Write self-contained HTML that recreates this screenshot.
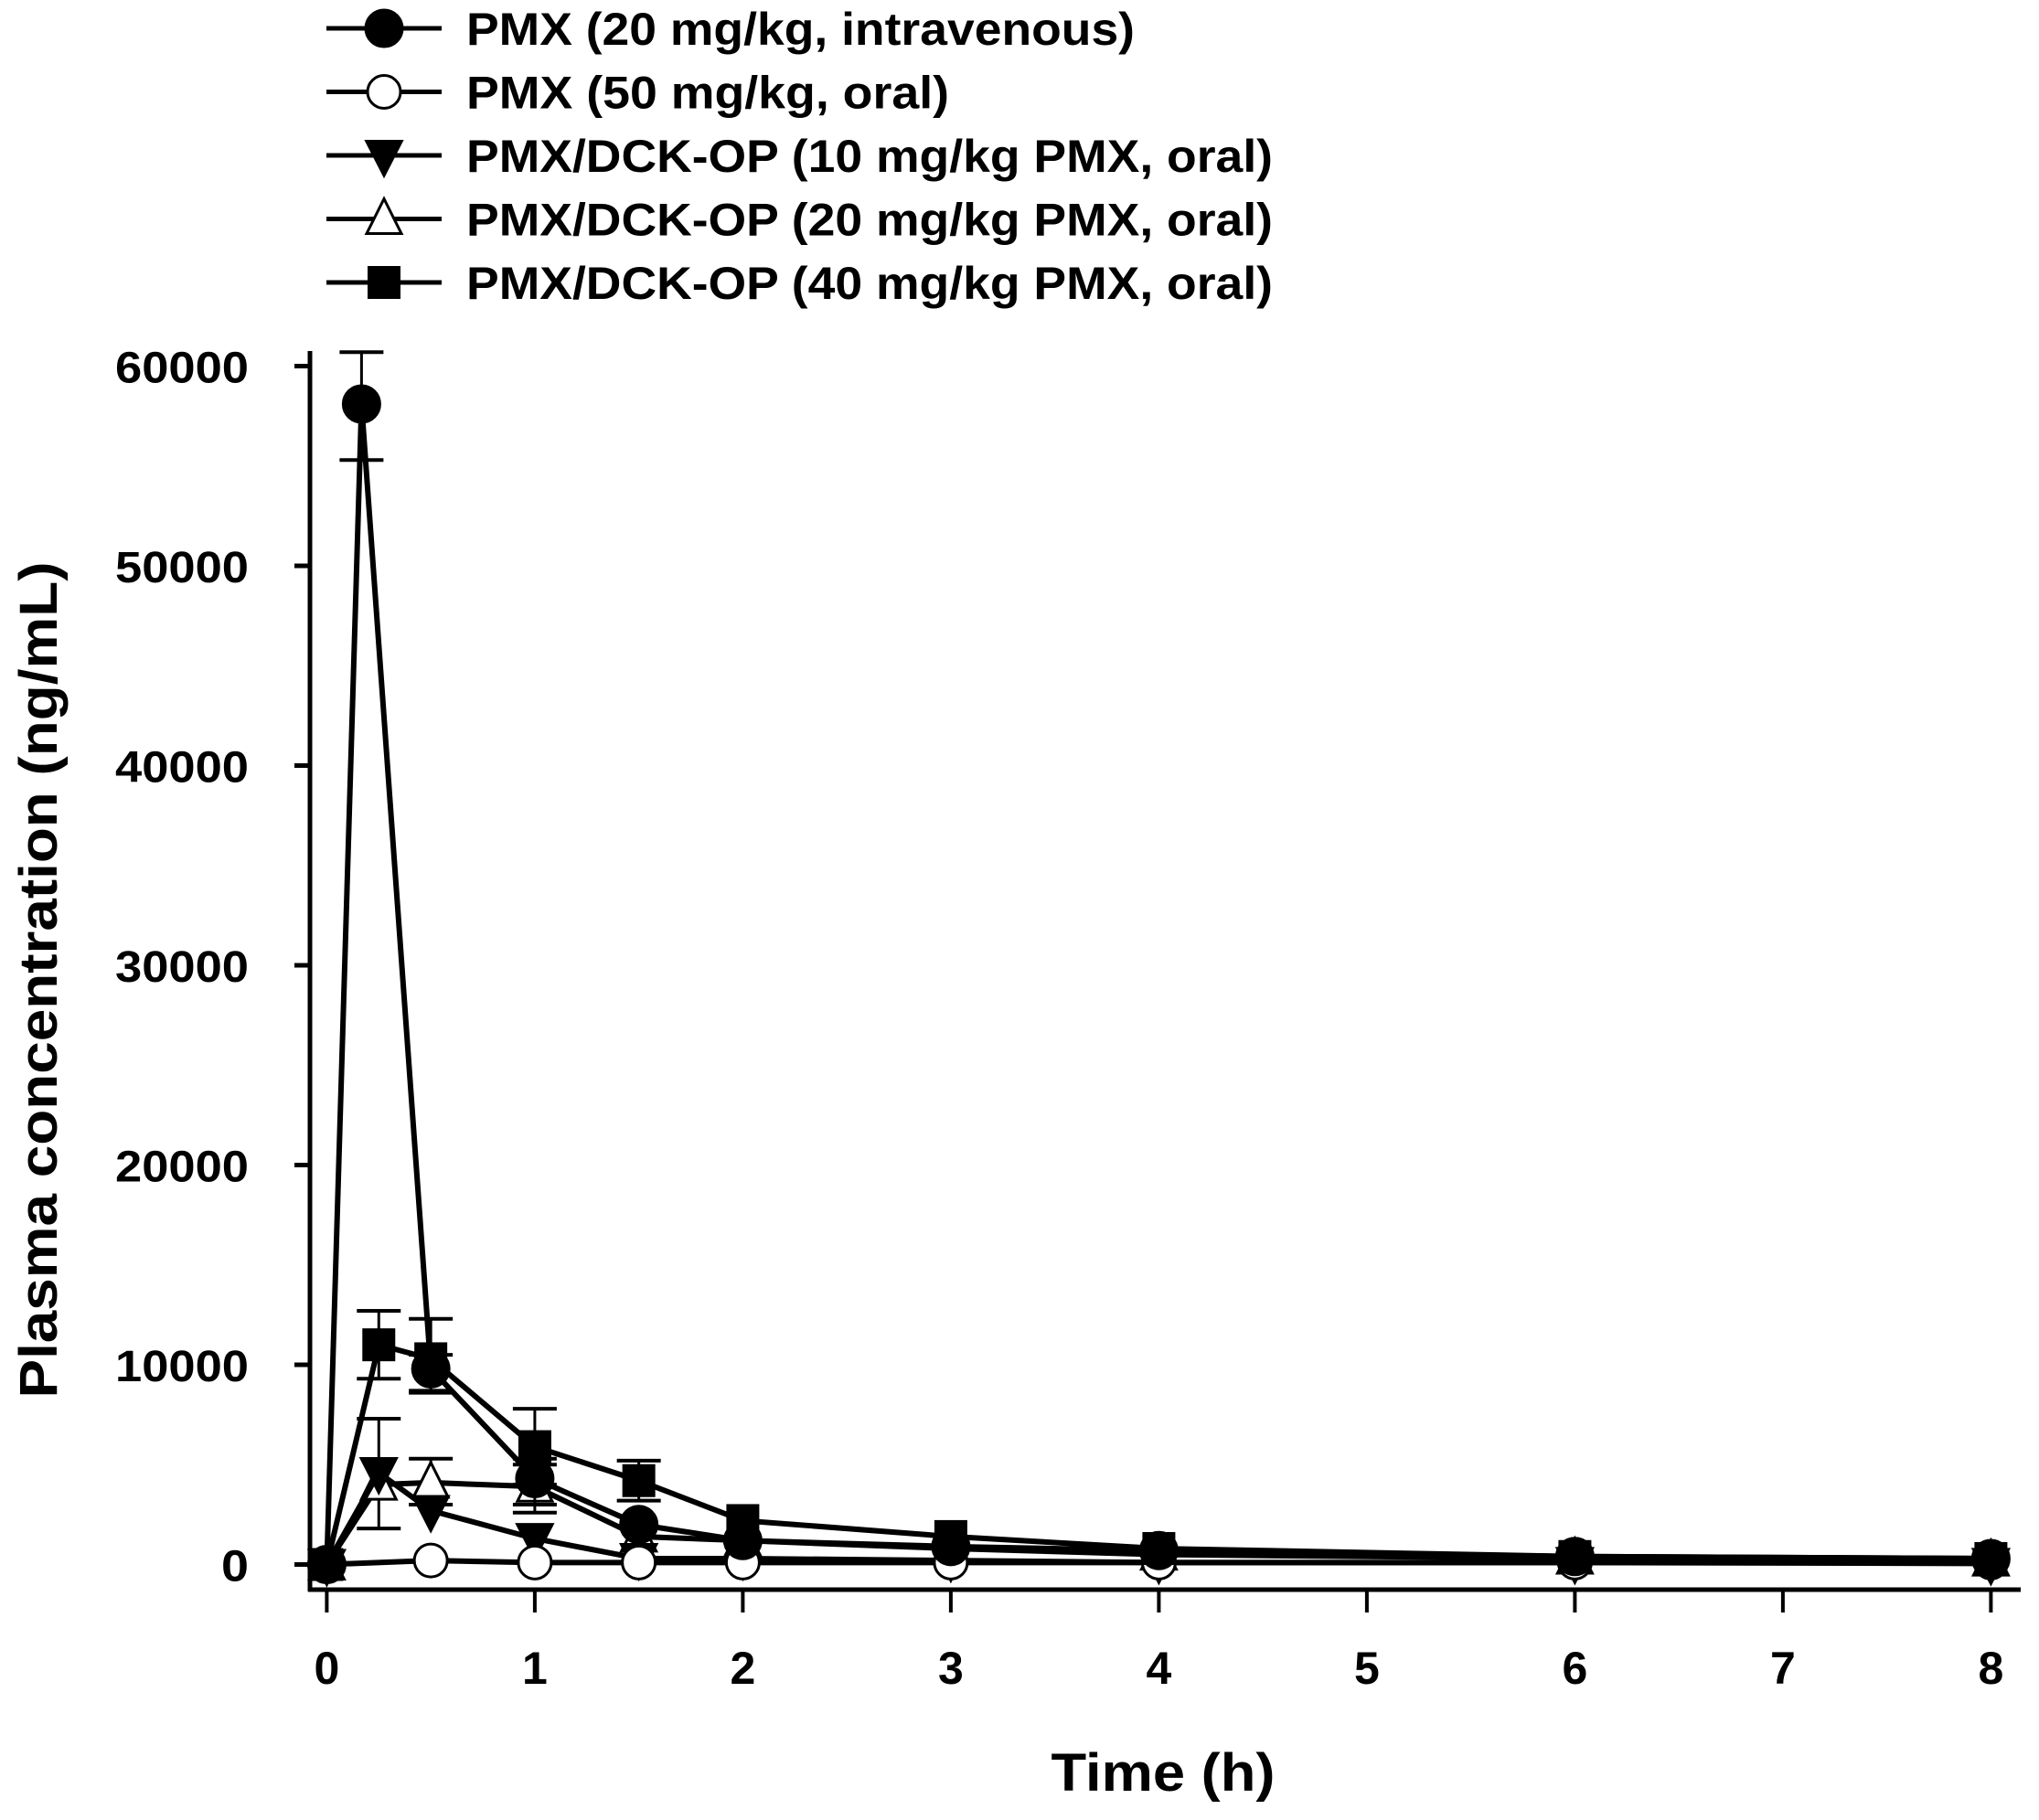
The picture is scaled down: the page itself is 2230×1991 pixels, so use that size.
<!DOCTYPE html>
<html><head><meta charset="utf-8"><style>
html,body{margin:0;padding:0;background:#fff;}
svg{display:block;}
text{font-family:"Liberation Sans",Arial,sans-serif;font-weight:bold;fill:#000;}
</style></head><body>
<svg id="s" width="2230" height="1991" viewBox="0 0 2230 1991" xmlns="http://www.w3.org/2000/svg">
<g id="axes" stroke="#000" stroke-width="5" fill="none">
<line x1="339" y1="384" x2="339" y2="1741"/>
<line x1="337" y1="1739" x2="2210" y2="1739"/>
</g>
<g id="g"></g>
<text x="1272" y="1959" font-size="58" text-anchor="middle" textLength="245" lengthAdjust="spacingAndGlyphs">Time (h)</text>
<text transform="translate(62,1072) rotate(-90)" font-size="58" text-anchor="middle" textLength="915" lengthAdjust="spacingAndGlyphs">Plasma concentration (ng/mL)</text>
</svg>
<script>
var NS="http://www.w3.org/2000/svg",g=document.getElementById('g');
function X(t){return 357.4+t*227.5;}function Y(v){return 1711.5-v*0.02185;}
function el(n,a,p){var e=document.createElementNS(NS,n);for(var k in a)e.setAttribute(k,a[k]);(p||g).appendChild(e);return e;}
for(var v=0;v<=60000;v+=10000){var y=Y(v);el('line',{x1:322,y1:y,x2:339,y2:y,stroke:'#000','stroke-width':5});
var t=el('text',{x:272,y:y+18,'font-size':48,'text-anchor':'end',textLength:(v==0?30:146),lengthAdjust:'spacingAndGlyphs'});t.textContent=v;}
[0,1,2,3,4,5,6,7,8].forEach(function(h){var x=X(h);el('line',{x1:x,y1:1739,x2:x,y2:1764,stroke:'#000','stroke-width':4});
var t=el('text',{x:x,y:1842,'font-size':50,'text-anchor':'middle'});t.textContent=h;});
function marker(type,x,y,r,p){r=r||20;
if(type=='fc')el('circle',{cx:x,cy:y,r:r,fill:'#000',stroke:'#000','stroke-width':3},p);
if(type=='oc')el('circle',{cx:x,cy:y,r:r-2,fill:'#fff',stroke:'#000','stroke-width':3},p);
if(type=='dt')el('polygon',{points:(x-20)+','+(y-16)+' '+(x+20)+','+(y-16)+' '+x+','+(y+23),fill:'#000',stroke:'#000','stroke-width':2},p);
if(type=='ut')el('polygon',{points:(x-19)+','+(y+16)+' '+(x+19)+','+(y+16)+' '+x+','+(y-22),fill:'#fff',stroke:'#000','stroke-width':3},p);
if(type=='sq')el('rect',{x:x-18,y:y-18,width:36,height:36,fill:'#000'},p);}
var S=[
{m:'ut',d:[[0,0],[0.25,4000,1800,7300],[0.5,4100,3000,5300],[1,3900,2600,5300],[1.5,1400],[2,1200],[3,800],[4,500],[6,300],[8,200]]},
{m:'dt',d:[[0,0],[0.25,4600],[0.5,2700],[1,1300],[1.5,300],[2,300],[3,200],[4,100],[6,100],[8,50]]},
{m:'oc',d:[[0,0],[0.5,200],[1,100],[1.5,100],[2,100],[3,100],[4,100],[6,100],[8,100]]},
{m:'sq',d:[[0,0],[0.25,11000,9300,12700],[0.5,10300,8700,12300],[1,5900,4000,7800],[1.5,4200,3200,5200],[2,2200],[3,1400],[4,800],[6,400],[8,300]]},
{m:'fc',d:[[0,0],[0.167,58100,55300,60700],[0.5,9800,8600,10500],[1,4300,3000,5000],[1.5,2000],[2,1200],[3,900],[4,700],[6,400],[8,300]]}
];
S.forEach(function(s){var pts=s.d.map(function(p){return X(p[0])+','+Y(p[1]);}).join(' ');
el('polyline',{points:pts,fill:'none',stroke:'#000','stroke-width':6});
s.d.forEach(function(p){if(p.length>2){var x=X(p[0]);el('line',{x1:x,y1:Y(p[2]),x2:x,y2:Y(p[3]),stroke:'#000','stroke-width':3});
[p[2],p[3]].forEach(function(v){el('line',{x1:x-24,y1:Y(v),x2:x+24,y2:Y(v),stroke:'#000','stroke-width':4});});}});
s.d.forEach(function(p){marker(s.m,X(p[0]),Y(p[1]));});});
var L=[['fc','PMX (20 mg/kg, intravenous)',731],['oc','PMX (50 mg/kg, oral)',528],['dt','PMX/DCK-OP (10 mg/kg PMX, oral)',882],['ut','PMX/DCK-OP (20 mg/kg PMX, oral)',882],['sq','PMX/DCK-OP (40 mg/kg PMX, oral)',882]];
L.forEach(function(l,i){var y=31+i*69.5;el('line',{x1:357,y1:y,x2:483,y2:y,stroke:'#000','stroke-width':5});marker(l[0],420,y);
var t=el('text',{x:510,y:y+18,'font-size':50,textLength:l[2],lengthAdjust:'spacingAndGlyphs'});t.textContent=l[1];});
</script>
</body></html>
